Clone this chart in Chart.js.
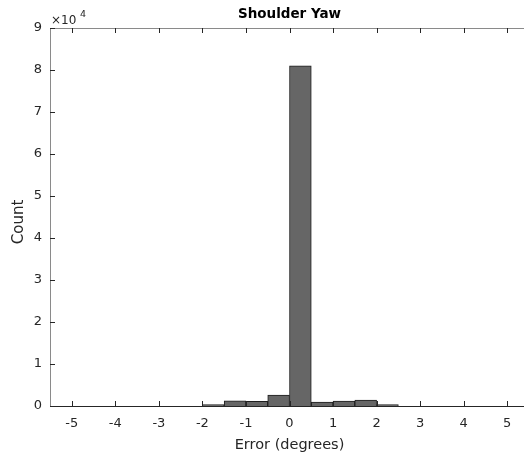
<!DOCTYPE html>
<html>
<head>
<meta charset="utf-8">
<script src="https://cdn.jsdelivr.net/npm/chart.js@4"></script>
<style>
html,body{margin:0;padding:0;background:#fff;overflow:hidden;width:524px;height:456px;}
canvas{display:block;}
</style>
</head>
<body>
<canvas id="c" width="540" height="456" style="width:540px;height:456px"></canvas>
<script>
// Histogram bins (degrees) and counts
const binEdges = [-2, -1.5, -1, -0.5, 0, 0.5, 1, 1.5, 2, 2.5];
const counts   = [310, 1260, 1120, 2620, 81000, 950, 1190, 1430, 310];
const xTicks = [-5, -4, -3, -2, -1, 0, 1, 2, 3, 4, 5];
const yTicks = [0, 10000, 20000, 30000, 40000, 50000, 60000, 70000, 80000, 90000];
const titleText = 'Shoulder Yaw';
const xLabel = 'Error (degrees)';
const yLabel = 'Count';

const FONT = "'DejaVu Sans', Arial, Helvetica, sans-serif";
const INK = '#262626';

const points = counts.map((c, i) => ({x: (binEdges[i] + binEdges[i + 1]) / 2, y: c}));

const decor = {
  id: 'decor',
  afterDraw(chart) {
    const ctx = chart.ctx;
    const a = chart.chartArea;
    const xs = chart.scales.x, ys = chart.scales.y;
    ctx.save();
    // top axis line
    ctx.strokeStyle = '#8a8a8a';
    ctx.lineWidth = 1;
    ctx.beginPath();
    ctx.moveTo(a.left, a.top + 0.5);
    ctx.lineTo(a.right, a.top + 0.5);
    ctx.stroke();
    // inward ticks
    ctx.strokeStyle = INK;
    ctx.beginPath();
    xs.ticks.forEach(t => {
      const px = Math.round(xs.getPixelForValue(t.value)) + 0.5;
      ctx.moveTo(px, a.bottom); ctx.lineTo(px, a.bottom - 5);
      ctx.moveTo(px, a.top); ctx.lineTo(px, a.top + 5);
    });
    ys.ticks.forEach(t => {
      const py = Math.round(ys.getPixelForValue(t.value)) + 0.5;
      ctx.moveTo(a.left, py); ctx.lineTo(a.left + 5, py);
    });
    ctx.stroke();
    // title
    ctx.fillStyle = '#000';
    ctx.font = 'bold 13.5px ' + FONT;
    ctx.textAlign = 'center';
    ctx.textBaseline = 'middle';
    ctx.fillText(titleText, (a.left + a.right) / 2, 14.5);
    // y label
    ctx.fillStyle = INK;
    ctx.save();
    ctx.translate(19, (a.top + a.bottom) / 2 + 5);
    ctx.rotate(-Math.PI / 2);
    ctx.font = '15px ' + FONT;
    ctx.fillText(yLabel, 0, 0);
    ctx.restore();
    // exponent label
    ctx.textAlign = 'left';
    ctx.textBaseline = 'alphabetic';
    ctx.font = '12px ' + FONT;
    ctx.fillText('\u00d710', a.left + 1, 24);
    ctx.font = '9.5px ' + FONT;
    ctx.fillText('4', a.left + 30, 17);
    ctx.restore();
  }
};

new Chart(document.getElementById('c'), {
  type: 'bar',
  data: {
    datasets: [{
      data: points,
      backgroundColor: '#666666',
      borderColor: '#1e1e1e',
      borderWidth: 1,
      barPercentage: 1,
      categoryPercentage: 1
    }]
  },
  options: {
    responsive: false,
    animation: false,
    devicePixelRatio: 1,
    layout: {padding: {left: 0, right: 11, top: 28, bottom: 0}},
    plugins: {legend: {display: false}, title: {display: false}, tooltip: {enabled: false}},
    scales: {
      x: {
        type: 'linear',
        min: -5.5, max: 5.5,
        offset: false,
        afterBuildTicks: s => { s.ticks = xTicks.map(v => ({value: v})); },
        afterFit: s => { s.height = 50; },
        grid: {display: false, drawTicks: false, tickLength: 0},
        border: {display: true, color: INK, width: 1},
        ticks: {color: INK, font: {family: FONT, size: 13}, padding: 10, maxRotation: 0, autoSkip: false,
                callback: v => String(v)},
        title: {display: true, text: xLabel, color: INK, font: {family: FONT, size: 14.5}, padding: {top: 0, bottom: 2}}
      },
      y: {
        min: 0, max: 90000,
        afterBuildTicks: s => { s.ticks = yTicks.map(v => ({value: v})); },
        afterFit: s => { s.width = 50; },
        grid: {display: false, drawTicks: false, tickLength: 0},
        border: {display: true, color: '#8a8a8a', width: 1},
        ticks: {color: INK, font: {family: FONT, size: 13}, padding: 8, autoSkip: false,
                callback: v => String(v / 10000)},
        title: {display: false}
      }
    }
  },
  plugins: [decor]
});
</script>
</body>
</html>
